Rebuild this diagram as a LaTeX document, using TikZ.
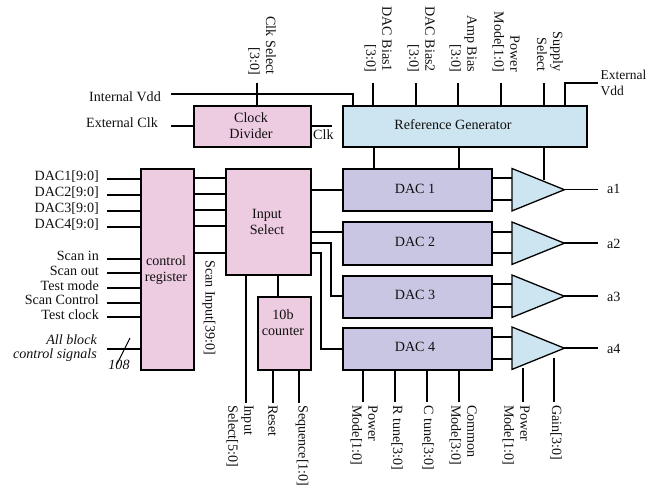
\documentclass[tikz,border=0pt]{standalone}
\usepackage{fontspec}
\setmainfont{Liberation Serif}
\usetikzlibrary{calc}
\definecolor{pinkfill}{HTML}{EDCBE1}
\definecolor{bluefill}{HTML}{CDE5F1}
\definecolor{lavfill}{HTML}{C9C6E3}
\definecolor{ink}{HTML}{101010}
\tikzset{
  x=1pt,y=-1pt,
  every node/.style={text=ink,font=\fontsize{14.1}{16}\selectfont},
  wire/.style={draw=black,line width=1.7pt},
  thinwire/.style={draw=black,line width=1pt},
  blockbox/.style={draw=black,line width=1.7pt,inner sep=0pt,anchor=north west},
  pinkbox/.style={blockbox,fill=pinkfill},
  bluebox/.style={blockbox,fill=bluefill},
  lavbox/.style={blockbox,fill=lavfill},
  rlabel/.style={anchor=east,inner sep=0pt},
  llabel/.style={anchor=west,inner sep=0pt},
  toplabel/.style={rotate=-90,anchor=east,align=right,inner sep=0pt},
  botlabel/.style={rotate=-90,anchor=west,align=left,inner sep=0pt},
  amphit/.style={inner sep=0pt,minimum width=52pt,minimum height=42pt,anchor=north west},
  ampshape/.style={draw=black,line width=1.3pt,fill=bluefill,line join=miter},
}
\newcommand{\ampblock}[3]{%
  \node[amphit] (#1) at (#2,#3) {};
  \draw[ampshape] (#1.north west) -- (#1.east) -- (#1.south west) -- cycle;
}
\begin{document}
\begin{tikzpicture}
\useasboundingbox (0,0) rectangle (647,487);
% free ends
\coordinate (ivdd) at (171,94);
\coordinate (eclk) at (171,126);
\coordinate (clksel) at (257,83);
\coordinate (clkout) at (332,126);
\foreach \n/\x in {b1/373,b2/416,b3/458,b4/501,b5/544}{\coordinate (\n) at (\x,83);}
\coordinate (evddc) at (565,83);
\coordinate (evdd) at (598,83);
\foreach \n/\y in {d1/179,d2/195,d3/211,d4/227,si/259,so/273,tm/288,sc/303,tc/317,ab/349}{\coordinate (\n) at (107,\y);}
\coordinate (slashA) at (130,338);
\coordinate (slashB) at (117,364);
\coordinate (isel) at (246,403);
\coordinate (rst) at (273,403);
\coordinate (seq) at (299,403);
\foreach \n/\x in {p1/363,rt/395,ct/427,cm/459,p2/523,gn/554}{\coordinate (\n) at (\x,402);}
\coordinate (gntop) at (554,358);
\coordinate (sup) at (544,180);
\coordinate (o1) at (598,189.5);
\coordinate (o2) at (598,243);
\coordinate (o3) at (598,296);
\coordinate (o4) at (598,348);
% wires below boxes
\draw[wire] (ivdd) -- (353,94) -- (353,105);
\draw[wire] (clksel) -- (257,105);
\draw[wire] (eclk) -- (193,126);
\draw[wire] (310,126) -- (clkout);
\foreach \n in {b1,b2,b3,b4,b5}{\draw[wire] (\n) -- ++(0,22);}
\draw[wire] (565,105) -- (evddc) -- (evdd);
% boxes
\node[pinkbox,minimum width=117pt,minimum height=41pt] (clk) at (193,105) {};
\node[bluebox,minimum width=244pt,minimum height=41pt] (ref) at (342,105) {};
\node[pinkbox,minimum width=53pt,minimum height=201pt] (ctrl) at (140,168) {};
\node[pinkbox,minimum width=85pt,minimum height=106pt] (insel) at (225,168) {};
\node[pinkbox,minimum width=53pt,minimum height=73pt] (cnt) at (257,296) {};
\node[lavbox,minimum width=149pt,minimum height=42pt] (dac1) at (342,168) {};
\node[lavbox,minimum width=149pt,minimum height=43pt] (dac2) at (342,221) {};
\node[lavbox,minimum width=149pt,minimum height=42pt] (dac3) at (342,275) {};
\node[lavbox,minimum width=149pt,minimum height=42pt] (dac4) at (342,327) {};
% dac to amp wires
\foreach \d/\y in {dac1/178,dac1/200,dac2/232,dac2/253,dac3/284,dac3/307,dac4/337,dac4/359}{\draw[wire] (491,\y) -- (512,\y);}
% output wires
\foreach \o in {o1,o2,o3,o4}{\draw[wire] (\o) -- ++(-34,0);}
% amps
\ampblock{amp1}{512}{168.5}
\ampblock{amp2}{512}{222}
\ampblock{amp3}{512}{275}
\ampblock{amp4}{512}{327}
% other wires
\draw[wire] (ref.south -| 374,0) -- (374,168);
\draw[wire] (ref.south -| 459,0) -- (459,168);
\draw[wire] (sup |- ref.south) -- (sup);
\foreach \n in {d1,d2,d3,d4,si,so,tm,sc,tc,ab}{\draw[wire] (\n) -- (\n -| ctrl.west);}
\draw[thinwire] (slashA) -- (slashB);
\foreach \y in {178,194,210,226,253}{\draw[wire] (ctrl.east |- 0,\y) -- (insel.west |- 0,\y);}
\draw[wire] (insel.east |- 0,190) -- (dac1.west |- 0,190);
\draw[wire] (insel.east |- 0,232) -- (dac2.west |- 0,232);
\draw[wire] (insel.east |- 0,243) -- (331,243) -- (331,296) -- (dac3.west |- 0,296);
\draw[wire] (insel.east |- 0,253) -- (321,253) -- (321,349) -- (dac4.west |- 0,349);
\draw[wire] (isel |- insel.south) -- (isel);
\draw[wire] (278,274) -- (278,296);
\draw[wire] (rst |- cnt.south) -- (rst);
\draw[wire] (seq |- cnt.south) -- (seq);
\foreach \n in {p1,rt,ct,cm}{\draw[wire] (\n |- dac4.south) -- (\n);}
\draw[wire] (p2) -- (523,368);
\draw[wire] (gn) -- (gntop);
% block texts
\node (tclk) [align=center] at (251,126) {Clock\\Divider};
\node (tref) at (453,125) {Reference Generator};
\node (tctrl) [align=center] at (166,270) {control\\register};
\node (tins) [align=center] at (267,222) {Input\\Select};
\node (tcnt) [align=center] at (283,323) {10b\\counter};
\node (t1) at (415,189) {DAC 1};
\node (t2) at (415,242) {DAC 2};
\node (t3) at (415,295) {DAC 3};
\node (t4) at (415,347) {DAC 4};
% labels
\node[rlabel] (lv) at (161,97) {Internal Vdd};
\node[rlabel] (lc) at (158,123) {External Clk};
\node[llabel] (lk) at (313,135) {Clk};
\node[rlabel] at (99,177) (ld1) {DAC1[9:0]};
\node[rlabel] at (99,193) (ld2) {DAC2[9:0]};
\node[rlabel] at (99,209) (ld3) {DAC3[9:0]};
\node[rlabel] at (99,225) (ld4) {DAC4[9:0]};
\node[rlabel] at (99,256) (lsi) {Scan in};
\node[rlabel] at (99,271) (lso) {Scan out};
\node[rlabel] at (99,286) (ltm) {Test mode};
\node[rlabel] at (99,300) (lsc) {Scan Control};
\node[rlabel] at (99,315) (ltc) {Test clock};
\node[rlabel,align=right,font=\fontsize{14.1}{14.5}\selectfont\itshape] at (97,348) (lab) {All block\\control signals};
\node[font=\fontsize{14.1}{16}\selectfont\itshape,inner sep=0pt] at (119,365) (l108) {108};
\node[toplabel] at (262,75) (tl0) {Clk Select\\{[3:0]}};
\node[toplabel] at (378,72) (tl1) {DAC Bias1\\{[3:0]}};
\node[toplabel] at (421,72) (tl2) {DAC Bias2\\{[3:0]}};
\node[toplabel] at (463,72) (tl3) {Amp Bias\\{[3:0]}};
\node[toplabel] at (506,72) (tl4) {Power\\Mode[1:0]};
\node[toplabel] at (550,72) (tl5) {Supply\\Select};
\node[llabel,align=left,font=\fontsize{13.5}{16}\selectfont] at (600.5,83) (tl6) {External\\Vdd};
\node[botlabel] at (209,260) (bl0) {Scan Input[39:0]};
\node[botlabel] at (240,405) (bl1) {Input\\Select[5:0]};
\node[botlabel] at (273,405) (bl2) {Reset};
\node[botlabel] at (302,405) (bl3) {Sequence[1:0]};
\node[botlabel] at (364,405) (bl4) {Power\\Mode[1:0]};
\node[botlabel] at (397,405) (bl5) {R tune[3:0]};
\node[botlabel] at (428,405) (bl6) {C tune[3:0]};
\node[botlabel] at (463,405) (bl7) {Common\\Mode[3:0]};
\node[botlabel] at (516,405) (bl8) {Power\\Mode[1:0]};
\node[botlabel] at (556,405) (bl9) {Gain[3:0]};
\node[llabel] at (607,189) (la1) {a1};
\node[llabel] at (607,244) (la2) {a2};
\node[llabel] at (607,297) (la3) {a3};
\node[llabel] at (607,349) (la4) {a4};
\end{tikzpicture}
\end{document}
